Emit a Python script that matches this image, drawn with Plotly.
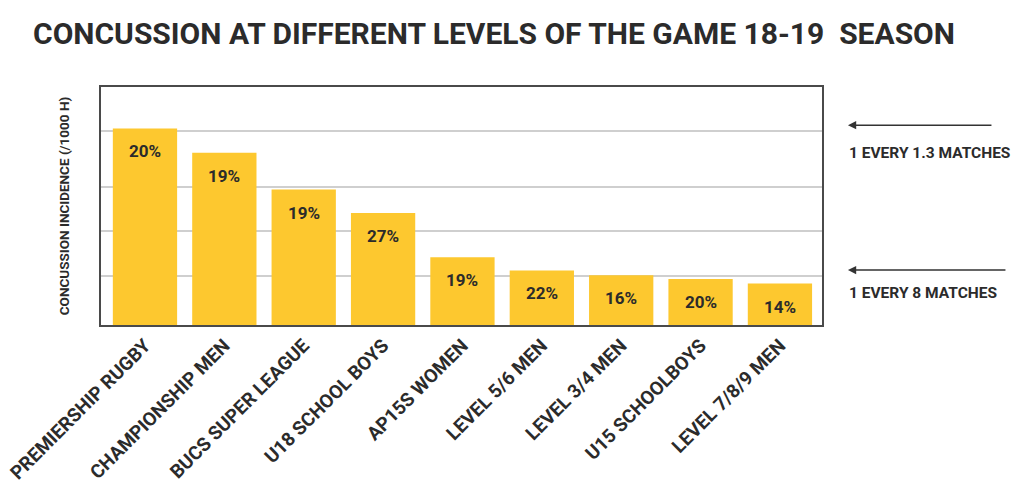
import plotly.graph_objects as go

# Concussion incidence per level of the game, 2018-19 season
categories = [
    "PREMIERSHIP RUGBY", "CHAMPIONSHIP MEN", "BUCS SUPER LEAGUE", "U18 SCHOOL BOYS",
    "AP15S WOMEN", "LEVEL 5/6 MEN", "LEVEL 3/4 MEN", "U15 SCHOOLBOYS", "LEVEL 7/8/9 MEN",
]
incidence = [20.9, 18.3, 14.4, 11.9, 7.2, 5.8, 5.3, 4.9, 4.4]
share_labels = ["20%", "19%", "19%", "27%", "19%", "22%", "16%", "20%", "14%"]
grid_values = [5.2, 10.0, 14.7, 20.6]
y_max = 25.3
reference_lines = [
    (20.6, "1 EVERY 1.3 MATCHES"),
    (5.2, "1 EVERY 8 MATCHES"),
]

FONT = "Roboto, Liberation Sans Narrow, sans-serif"
INK = "#2b2b2b"
BAR = "#FDC82F"

fig = go.Figure()
fig.add_trace(go.Bar(
    x=categories,
    y=incidence,
    marker=dict(color=BAR, line=dict(width=0)),
    hoverinfo="x+y",
))

# percentage labels sitting just under each bar top
for cat, val, lab in zip(categories, incidence, share_labels):
    fig.add_annotation(
        x=cat, y=val, text=f"<b>{lab}</b>", showarrow=False,
        yanchor="top", yshift=-11,
        font=dict(family=FONT, size=17, color=INK),
    )

# reference arrows and captions on the right
arrow_tails = [145, 159]
caption_shift = [-22, -17]
for (gv, caption), tail, cs in zip(reference_lines, arrow_tails, caption_shift):
    fig.add_annotation(
        x=1.036, xref="paper", y=gv, yref="y", yshift=6,
        text="", showarrow=True, ax=tail, ay=0,
        arrowhead=2, arrowsize=1.1, arrowwidth=1.5, arrowcolor="#333333",
    )
    fig.add_annotation(
        x=1.034, xref="paper", y=gv, yref="y", yshift=cs,
        text=f"<b>{caption}</b>", showarrow=False, xanchor="left", yanchor="middle",
        font=dict(family=FONT, size=15.5, color=INK),
    )

fig.update_layout(
    width=1011, height=483,
    margin=dict(l=101, r=189, t=87, b=158),
    paper_bgcolor="white", plot_bgcolor="white",
    bargap=0.19,
    showlegend=False,
    title=dict(
        text="<b>CONCUSSION AT DIFFERENT LEVELS OF THE GAME 18-19  SEASON</b>",
        x=33 / 1011, xanchor="left", xref="container",
        y=1 - 33 / 483, yanchor="middle", yref="container",
        font=dict(family=FONT, size=30, color=INK),
    ),
    xaxis=dict(
        range=[-0.554, 8.53],
        automargin=False,
        tickangle=-45,
        tickfont=dict(family=FONT, size=19, color=INK, weight="bold"),
        showline=True, linecolor="#4a4a4a", linewidth=2, mirror=True,
        ticks="", showgrid=False,
    ),
    yaxis=dict(
        range=[0, y_max],
        automargin=False,
        tickvals=grid_values,
        showticklabels=False,
        showgrid=True, gridcolor="#cfcfcf", gridwidth=1.5,
        showline=True, linecolor="#4a4a4a", linewidth=2, mirror=True,
        zeroline=False, ticks="",
        title=dict(
            text="<b>CONCUSSION INCIDENCE (/1000 H)</b>",
            font=dict(family=FONT, size=13.5, color=INK),
            standoff=26,
        ),
    ),
)

fig.write_html("out.html")
